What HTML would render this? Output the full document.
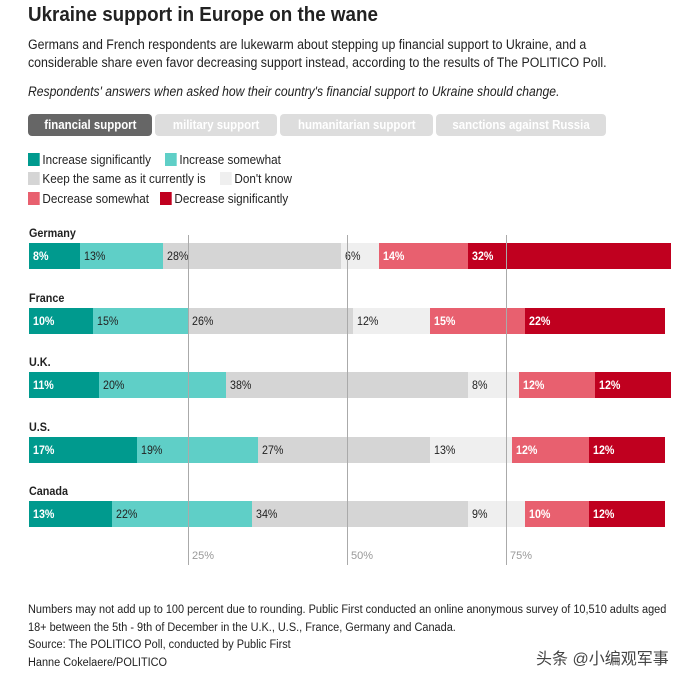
<!DOCTYPE html>
<html><head><meta charset="utf-8"><style>
body{margin:0;width:696px;height:677px;background:#fff;font-family:"Liberation Sans",sans-serif;color:#222;position:relative;overflow:hidden}
.a{position:absolute;white-space:nowrap}
.cx{display:inline-block;transform:scaleX(0.89);transform-origin:left center}
.cc{display:inline-block;transform:scaleX(0.88);transform-origin:center center}
.tab{position:absolute;top:114px;height:22px;border-radius:4px;background:#ddd;color:#fff;font-size:13px;font-weight:bold;line-height:22px;text-align:center;white-space:nowrap}
.sw{display:inline-block;width:13px;height:13px;vertical-align:-2px;margin-right:3px}
.lg{position:absolute;font-size:13px;color:#222;white-space:nowrap;transform:scaleX(0.9);transform-origin:left center}
.cl{position:absolute;font-size:12px;font-weight:bold;transform:scaleX(0.9);transform-origin:left center}
.seg{position:absolute;height:26px;font-size:12px;line-height:26px;box-sizing:border-box;padding-left:4px;overflow:visible;white-space:nowrap}
.grid{position:absolute;top:235px;height:330px;width:1px;background:#aaa}
.tk{position:absolute;top:550px;font-size:11px;color:#999}
</style></head><body>
<div class="a" style="left:28px;top:4px;font-size:20px;font-weight:bold;color:#222"><span class="cx" style="transform:scaleX(0.94)">Ukraine support in Europe on the wane</span></div>
<div class="a" style="left:28px;top:36px;font-size:13.5px;line-height:18px"><span class="cx" style="transform:scaleX(0.915)">Germans and French respondents are lukewarm about stepping up financial support to Ukraine, and a<br>considerable share even favor decreasing support instead, according to the results of The POLITICO Poll.</span></div>
<div class="a" style="left:28px;top:84px;font-size:13.5px;font-style:italic"><span class="cx" style="transform:scaleX(0.9)">Respondents' answers when asked how their country's financial support to Ukraine should change.</span></div>
<div class="tab" style="left:28px;width:124px;background:#666"><span class="cc">financial support</span></div>
<div class="tab" style="left:155px;width:122px"><span class="cc">military support</span></div>
<div class="tab" style="left:280px;width:153px"><span class="cc">humanitarian support</span></div>
<div class="tab" style="left:436px;width:170px"><span class="cc">sanctions against Russia</span></div>
<div class="lg" style="left:28px;top:152px"><span class="sw" style="background:#009a8e"></span>Increase significantly</div>
<div class="lg" style="left:165px;top:152px"><span class="sw" style="background:#5fcfc7"></span>Increase somewhat</div>
<div class="lg" style="left:28px;top:171px"><span class="sw" style="background:#d5d5d5"></span>Keep the same as it currently is</div>
<div class="lg" style="left:220px;top:171px"><span class="sw" style="background:#efefef"></span>Don't know</div>
<div class="lg" style="left:28px;top:191px"><span class="sw" style="background:#e8606f"></span>Decrease somewhat</div>
<div class="lg" style="left:160px;top:191px"><span class="sw" style="background:#c0001f"></span>Decrease significantly</div>
<div id="chart"></div>
<div class="a" style="left:28px;top:602px;font-size:11.5px;line-height:17.5px"><span class="cx" style="transform:scaleX(0.95)">Numbers may not add up to 100 percent due to rounding. Public First conducted an online anonymous survey of 10,510 adults aged<br>18+ between the 5th - 9th of December in the U.K., U.S., France, Germany and Canada.<br>Source: The POLITICO Poll, conducted by Public First<br>Hanne Cokelaere/POLITICO</span></div>
<div class="a" style="left:536px;top:645px;font-size:16px;color:#444;font-family:'Liberation Sans','Noto Sans CJK SC',sans-serif">头条 @小编观军事</div>
<script>
const countries=["Germany","France","U.K.","U.S.","Canada"];
const incSig=[8,10,11,17,13];
const incSome=[13,15,20,19,22];
const keep=[28,26,38,27,34];
const dontKnow=[6,12,8,13,9];
const decSome=[14,15,12,12,10];
const decSig=[32,22,12,12,12];
const ticks=[25,50,75];
const series=[incSig,incSome,keep,dontKnow,decSome,decSig];
const colors=["#009a8e","#5fcfc7","#d5d5d5","#efefef","#e8606f","#c0001f"];
const txt=["#fff","#222","#222","#222","#fff","#fff"];
const names=["increase-significantly","increase-somewhat","keep-same","dont-know","decrease-somewhat","decrease-significantly"];
const x0=29,pxPer=6.36,rowY0=243,rowStep=64.6;
const xs=v=>x0+v*pxPer;
const c=document.getElementById('chart');
countries.forEach((n,i)=>{
  const y=rowY0+i*rowStep;
  const l=document.createElement('div');
  l.className='cl';l.style.left='29px';l.style.top=(y-17)+'px';l.textContent=n;
  
  
  c.appendChild(l);
  let acc=0;
  series.forEach((s,k)=>{
    const d=document.createElement('div');
    d.className='seg';
    d.style.left=xs(acc)+'px';d.style.top=y+'px';
    d.style.width=(s[i]*pxPer)+'px';
    d.style.background=colors[k];d.style.color=txt[k];
    if(k==0||k==4||k==5)d.style.fontWeight='bold';
    d.innerHTML='<span class="cx">'+s[i]+'%</span>';
    
    
    c.appendChild(d);
    acc+=s[i];
  });
});
ticks.forEach(t=>{
  const g=document.createElement('div');
  g.className='grid';g.style.left=xs(t)+'px';
  
  
  c.appendChild(g);
  const tl=document.createElement('div');
  tl.className='tk';tl.style.left=(xs(t)+4)+'px';tl.textContent=t+'%';
  
  
  c.appendChild(tl);
});
</script>
</body></html>
